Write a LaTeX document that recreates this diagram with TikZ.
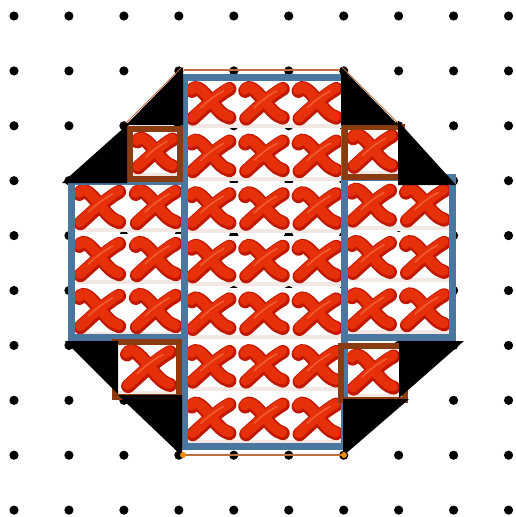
\documentclass[tikz,border=0pt]{standalone}
\definecolor{bluel}{HTML}{4A76A0}
\definecolor{brownl}{HTML}{8A3C10}
\definecolor{thinbr}{HTML}{C07040}
\definecolor{xred}{HTML}{E6300A}
\definecolor{xdark}{HTML}{C01800}
\definecolor{xlight}{HTML}{F25A30}
\definecolor{pinkb}{HTML}{F2E7E3}
\definecolor{dotor}{HTML}{F08A00}
\tikzset{
  bluebox/.style={draw=bluel,line width=7pt},
  brownbox/.style={draw=brownl,line width=6pt},
  blk/.style={fill=black},
  thinline/.style={draw=thinbr,line width=1.6pt},
}
\newcommand\xtile[4]{%
  \fill[white] (#1,#2) rectangle ++(#3,#4-2.5);
  \fill[pinkb] ({#1},{#2+#4-6.5}) rectangle ++(#3,4);
  \begin{scope}[shift={({#1+#3/2},{#2+#4/2-1.5})},scale={#3/54}]
    \draw[xdark,line width=14pt,line cap=round]
      (-19,-12) .. controls (-15,-19) and (-8,-12) .. (0,-2) .. controls (7,7) and (12,13) .. (19,15);
    \draw[xdark,line width=14pt,line cap=round]
      (19,-14) .. controls (8,-8) and (-6,5) .. (-18,16);
    \draw[xred,line width=10pt,line cap=round]
      (-19.5,-13) .. controls (-15.5,-20) and (-8.5,-13) .. (-0.5,-3) .. controls (6.5,6) and (11.5,12) .. (18.5,14);
    \draw[xred,line width=10pt,line cap=round]
      (18.5,-15) .. controls (7.5,-9) and (-6.5,4) .. (-18.5,15);
    \draw[xlight,line width=1.6pt,line cap=round]
      (13,-12) .. controls (5,-8) and (-4,-1) .. (-10,5);
  \end{scope}
}
\begin{document}
\begin{tikzpicture}[x=1pt,y=-1pt]
\useasboundingbox (0,0) rectangle (516,517);
\fill[white] (0,0) rectangle (516,517);
% dot grid
\foreach \i in {0,...,9}{
  \foreach \j in {0,...,9}{
    \fill[black] ({14+54.95*\i},{16+54.9*\j}) circle[radius=4.6pt];
  }
}
% central column tiles 3 x 7
\foreach \c in {0,1,2}{
  \foreach \r in {0,...,6}{
    \xtile{184+53.33*\c}{78+52.6*\r}{53.33}{52.6}
  }
}
% left block tiles 2 x 3
\foreach \c in {0,1}{
  \foreach \r in {0,1,2}{
    \xtile{71+56.5*\c}{182+52*\r}{56.5}{52}
  }
}
% right block tiles 2 x 3
\foreach \c in {0,1}{
  \foreach \r in {0,1,2}{
    \xtile{344+54*\c}{180+52.3*\r}{54}{52.3}
  }
}
% small squares tiles
\xtile{130}{129}{50}{50}
\xtile{345}{127}{55}{50}
\xtile{118}{342}{61}{55}
\xtile{344}{346}{58}{54}
% blue rectangles
\draw[bluebox] (71,181) rectangle (184,337);
\draw[bluebox] (344,177) rectangle (452,337);
\draw[bluebox] (184,77) rectangle (344,446);
% brown squares
\draw[brownbox] (130,129) rectangle (180,179);
\draw[brownbox] (345,127) rectangle (402,177);
\draw[brownbox] (115,342) rectangle (179,397);
\draw[brownbox] (341,346) rectangle (405,400);
% black triangles
\fill[blk] (183,67) -- (126,125) -- (183,125) -- cycle;
\fill[blk] (127,125) -- (62,183) -- (127,183) -- cycle;
\fill[blk] (341,67) -- (398,125) -- (341,125) -- cycle;
\fill[blk] (398,121) -- (456,185) -- (398,185) -- cycle;
\fill[blk] (65,341) -- (118,341) -- (118,394) -- cycle;
\fill[blk] (118,395) -- (182,395) -- (182,456) -- cycle;
\fill[blk] (399,341) -- (464,341) -- (399,398) -- cycle;
\fill[blk] (343,399) -- (409,399) -- (343,456) -- cycle;
% thin outline lines
\draw[thinline] (184,70) -- (340,70);
\draw[thinline] (184,455) -- (343,455);
\draw[draw=thinbr,line width=0.8pt] (342,67) -- (398,123);
\draw[draw=thinbr,line width=0.8pt] (182,67) -- (126,123);
\fill[dotor] (183,455) circle[radius=3pt];
\fill[dotor] (344,455) circle[radius=3pt];
\end{tikzpicture}
\end{document}
